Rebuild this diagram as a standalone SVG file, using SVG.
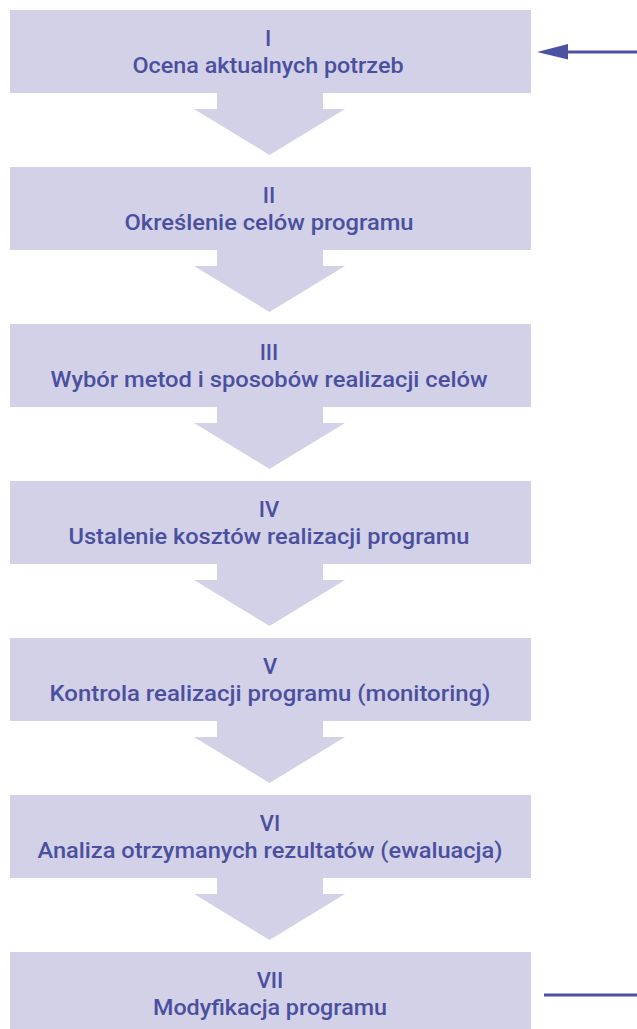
<svg xmlns="http://www.w3.org/2000/svg" width="637" height="1029" viewBox="0 0 637 1029">
<style>
.box{fill:#d3d1e8}
.arr{fill:#d3d1e8}
.t{font-family:Roboto,"Liberation Sans",sans-serif;font-size:22px;font-weight:500;fill:#4a509f;text-anchor:middle}
.ln{stroke:#4c52a3;stroke-width:3;fill:none}
</style>
<defs>
<polygon id="down" class="arr" points="217,0 323,0 323,16 345,16 269.5,62 194,16 217,16"/>
</defs>
<g id="connectors">
<use href="#down" y="93"/>
<use href="#down" y="250"/>
<use href="#down" y="407"/>
<use href="#down" y="564"/>
<use href="#down" y="721"/>
<use href="#down" y="878"/>
<line class="ln" x1="566" y1="52" x2="637" y2="52"/>
<polygon points="537,52 568,44 568,59.5" fill="#4c52a3"/>
<line class="ln" x1="544" y1="995" x2="637" y2="995"/>
</g>
<g id="n1"><rect class="box" x="10" y="10" width="521" height="83"/>
<text class="t" x="268" y="45.5">I</text>
<text class="t" x="268" y="72.5" textLength="271" lengthAdjust="spacingAndGlyphs">Ocena aktualnych potrzeb</text></g>
<g id="n2"><rect class="box" x="10" y="167" width="521" height="83"/>
<text class="t" x="269" y="202.5">II</text>
<text class="t" x="269" y="229.5" textLength="289" lengthAdjust="spacingAndGlyphs">Określenie celów programu</text></g>
<g id="n3"><rect class="box" x="10" y="324" width="521" height="83"/>
<text class="t" x="269" y="359.5">III</text>
<text class="t" x="269" y="386.5" textLength="437" lengthAdjust="spacingAndGlyphs">Wybór metod i sposobów realizacji celów</text></g>
<g id="n4"><rect class="box" x="10" y="481" width="521" height="83"/>
<text class="t" x="269" y="516.5">IV</text>
<text class="t" x="269" y="543.5" textLength="401" lengthAdjust="spacingAndGlyphs">Ustalenie kosztów realizacji programu</text></g>
<g id="n5"><rect class="box" x="10" y="638" width="521" height="83"/>
<text class="t" x="270" y="673.5">V</text>
<text class="t" x="270" y="700.5" textLength="441" lengthAdjust="spacingAndGlyphs">Kontrola realizacji programu (monitoring)</text></g>
<g id="n6"><rect class="box" x="10" y="795" width="521" height="83"/>
<text class="t" x="270" y="830.5">VI</text>
<text class="t" x="270" y="857.5" textLength="465" lengthAdjust="spacingAndGlyphs">Analiza otrzymanych rezultatów (ewaluacja)</text></g>
<g id="n7"><rect class="box" x="10" y="952" width="521" height="83"/>
<text class="t" x="270" y="987.5">VII</text>
<text class="t" x="270" y="1014.5" textLength="234" lengthAdjust="spacingAndGlyphs">Modyfikacja programu</text></g>
</svg>
